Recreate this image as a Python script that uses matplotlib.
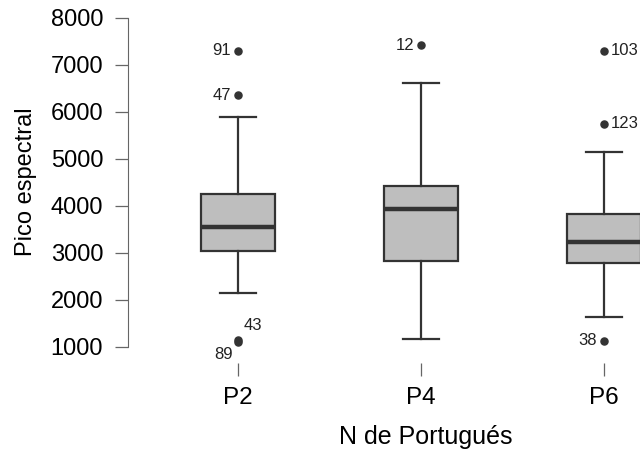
import numpy as np
import matplotlib.pyplot as plt

plt.rcParams['font.family'] = ['Liberation Sans', 'DejaVu Sans']

# summary values
groups = ['P2', 'P4', 'P6']
whisker_low = [2150, 1170, 1640]
q1 = [3045, 2830, 2790]
median = [3550, 3935, 3235]
q3 = [4255, 4425, 3830]
whisker_high = [5895, 6615, 5150]

# outliers: group index, value, label
out_group = [0, 0, 0, 0, 1, 2, 2, 2]
out_value = [7300, 6360, 1150, 1115, 7425, 7300, 5745, 1130]
out_label = ['91', '47', '43', '89', '12', '103', '123', '38']
# where each label sits relative to its point
out_side = ['left', 'left', 'upright', 'downleft', 'left', 'right', 'right', 'left']

dark = '#333333'

fig = plt.figure(figsize=(6.4, 4.53), dpi=100)
ax = fig.add_axes([0.2, 0.1987, 0.8, 0.8013])

positions = np.arange(1, len(groups) + 1)
stats = []
for i, g in enumerate(groups):
    stats.append({'label': g, 'whislo': whisker_low[i], 'q1': q1[i], 'med': median[i],
                  'q3': q3[i], 'whishi': whisker_high[i], 'fliers': []})

ax.bxp(stats, positions=positions, widths=0.4, patch_artist=True, showfliers=False,
       boxprops=dict(facecolor='#bebebe', edgecolor=dark, linewidth=1.6),
       medianprops=dict(color=dark, linewidth=3.2),
       whiskerprops=dict(color=dark, linewidth=1.6),
       capprops=dict(color=dark, linewidth=1.6),
       capwidths=0.2)

xs = [positions[g] for g in out_group]
ax.scatter(xs, out_value, s=26, color=dark, zorder=3, clip_on=False)

offsets = {'left': (-5, 0, 'right', 'center'),
           'right': (5, 0, 'left', 'center'),
           'upright': (4, 5, 'left', 'bottom'),
           'downleft': (-4, -4, 'right', 'top')}
for x, v, lab, side in zip(xs, out_value, out_label, out_side):
    dx, dy, ha, va = offsets[side]
    ax.annotate(lab, (x, v), xytext=(dx, dy), textcoords='offset points',
                ha=ha, va=va, fontsize=12, color='#222222')

ax.set_xlim(0.399, 3.197)
ax.set_ylim(659, 8383)
ax.set_yticks(range(1000, 8001, 1000))
ax.set_xticks(positions)
ax.set_xticklabels(groups)

for s in ['top', 'right', 'bottom']:
    ax.spines[s].set_visible(False)
ax.spines['left'].set_bounds(1000, 8000)
ax.spines['left'].set_color('#666666')
ax.tick_params(axis='y', length=9.4, width=0.9, color='#666666', pad=8.5, labelsize=17)
ax.tick_params(axis='x', length=9, width=0.9, color='#666666', pad=8, labelsize=17.5)

ax.set_ylabel('Pico espectral', fontsize=17, labelpad=10)
ax.set_xlabel('N de Portugués', fontsize=18)
# the original plot area ran past the right edge, so the label sits right of centre
ax.xaxis.set_label_coords(0.582, -0.172)
ax.patch.set_alpha(0)

fig.savefig('out.png', dpi=100)
